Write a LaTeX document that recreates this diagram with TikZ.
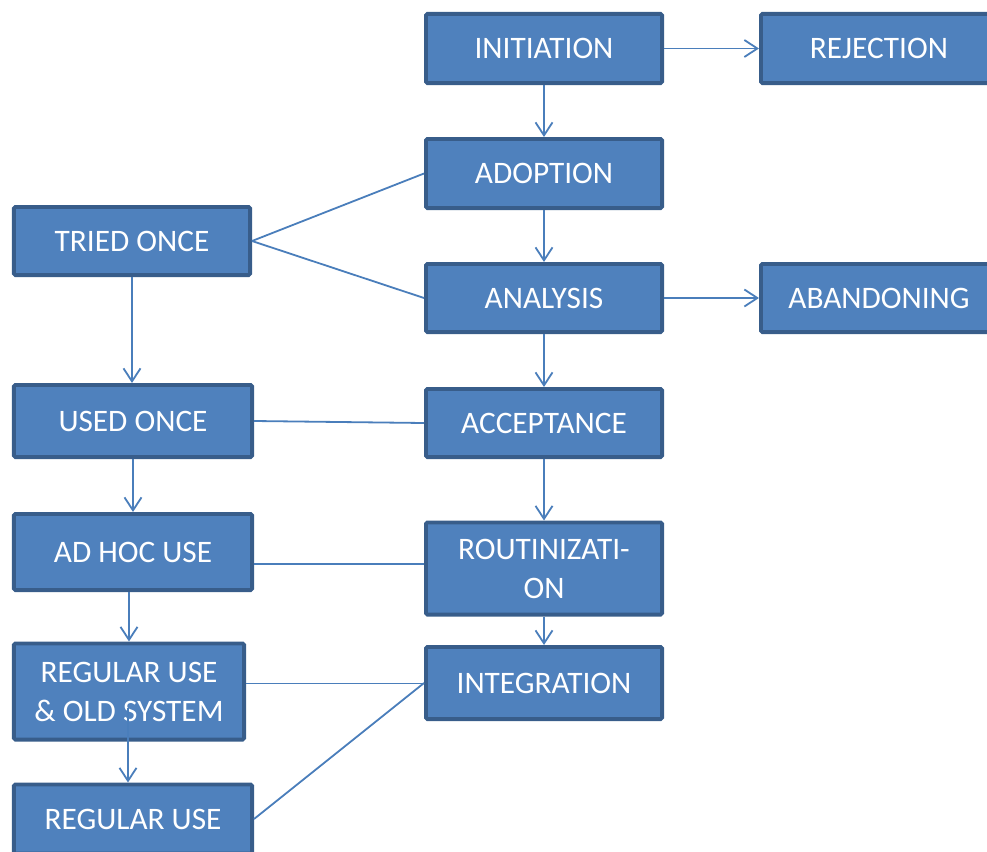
\documentclass[tikz,border=0pt]{standalone}
\usepackage{fontspec}
\setmainfont{Carlito}
\usetikzlibrary{arrows.meta}
\definecolor{boxfill}{HTML}{4F81BD}
\definecolor{boxline}{HTML}{385D8A}
\definecolor{linkcol}{HTML}{4A7EBB}
\begin{document}
\begin{tikzpicture}[x=1bp,y=-1bp,
  stage/.style={draw=boxline, fill=boxfill, line width=3.8bp, rounded corners=1.5bp,
    text=white, font=\fontsize{31.3bp}{39bp}\selectfont, align=center,
    inner sep=0pt, minimum width=236.2bp, minimum height=69.2bp},
  link/.style={draw=linkcol, line width=1.8bp},
  flow/.style={link, -{Straight Barb[length=13bp,width=17bp,line width=1.8bp]}}]
\useasboundingbox (0,0) rectangle (987,852);
\clip (0,0) rectangle (987,852);

% main column
\node[stage] (init)   at (544,48.5)  {INITIATION};
\node[stage] (adopt)  at (544,173.5) {ADOPTION};
\node[stage, minimum height=68.2bp] (anal) at (544,298) {ANALYSIS};
\node[stage, minimum height=68.2bp] (accept) at (544,423) {ACCEPTANCE};
\node[stage, minimum height=92.2bp] (rout) at (544,568.5) {ROUTINIZATI-\\ON};
\node[stage, minimum height=72.2bp] (integ) at (544,683) {INTEGRATION};

% exits
\node[stage] (rej)   at (879,48.5) {REJECTION};
\node[stage, minimum height=68.2bp] (aband) at (879,298) {ABANDONING};

% usage column
\node[stage, minimum height=68.2bp] (tried) at (132,241) {TRIED ONCE};
\node[stage, minimum width=238.2bp, minimum height=72.2bp] (used) at (133,421) {USED ONCE};
\node[stage, minimum width=238.2bp, minimum height=76.2bp] (adhoc) at (133,552) {AD HOC USE};
\node[stage, minimum width=230.2bp, minimum height=96.2bp] (oldsys) at (129,691.5) {REGULAR USE\\\& OLD SYSTEM};
\node[stage, minimum width=238.2bp] (reg) at (133,819) {REGULAR USE};

% main flow
\draw[flow] (init) -- (rej);
\draw[flow] (init) -- (adopt);
\draw[flow] (adopt) -- (anal);
\draw[flow] (anal) -- (aband);
\draw[flow] (anal) -- (accept);
\draw[flow] (accept) -- (rout);
\draw[flow] (rout) -- (integ);

% usage flow
\draw[flow] (tried.south) -- (tried.south |- used.north);
\draw[flow] (used.south) -- (used.south |- adhoc.north);
\draw[flow] (oldsys.north |- adhoc.south) -- (oldsys.north);
\coordinate (oldsysmid) at ([xshift=-1bp, yshift=-16bp]oldsys.center);
\draw[flow] (oldsysmid) -- (oldsysmid |- reg.north);

% cross links
\draw[link] (tried.east) -- (adopt.west);
\draw[link] (tried.east) -- (anal.west);
\draw[link] (used.east) -- (accept.west);
\draw[link] ([yshift=-12bp]adhoc.east) -- ([yshift=-12bp]adhoc.east -| rout.west);
\draw[link] ([yshift=8bp]oldsys.east) -- ([yshift=8bp]oldsys.east -| integ.west);
\draw[link] (reg.east) -- (integ.west);
\end{tikzpicture}
\end{document}
